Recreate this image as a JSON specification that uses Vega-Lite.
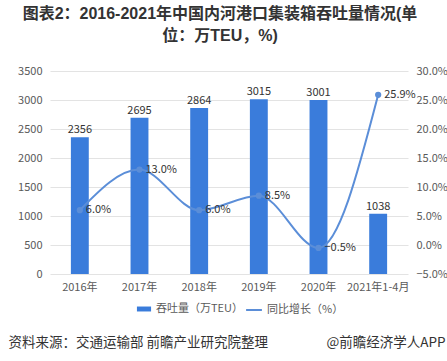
{
  "$schema": "https://vega.github.io/schema/vega-lite/v6.json",
  "width": 358,
  "height": 203,
  "padding": {"left": 8, "right": 2, "top": 6, "bottom": 10},
  "background": "white",
  "config": {
    "view": {"stroke": null},
    "font": "Noto Sans CJK SC"
  },
  "title": {
    "text": ["图表2：2016-2021年中国内河港口集装箱吞吐量情况(单", "位：万TEU，%)"],
    "fontSize": 16,
    "fontWeight": "bold",
    "font": "Liberation Sans, Noto Sans CJK SC",
    "color": "#333333",
    "anchor": "middle",
    "lineHeight": 22,
    "dx": -9,
    "offset": 21
  },
  "data": {
    "values": [
      {"year": "2016年", "teu": 2356, "growth": 0.06},
      {"year": "2017年", "teu": 2695, "growth": 0.13},
      {"year": "2018年", "teu": 2864, "growth": 0.06},
      {"year": "2019年", "teu": 3015, "growth": 0.085},
      {"year": "2020年", "teu": 3001, "growth": -0.005},
      {"year": "2021年1-4月", "teu": 1038, "growth": 0.259}
    ]
  },
  "layer": [
    {
      "encoding": {
        "x": {
          "field": "year", "type": "nominal", "sort": null,
          "scale": {"paddingInner": 0.7, "paddingOuter": 0.35},
          "axis": {
            "labelAngle": 0, "labelFontSize": 11, "labelColor": "#595959",
            "labelPadding": 7, "ticks": false, "domain": false, "grid": false,
            "title": "资料来源：交通运输部 前瞻产业研究院整理",
            "titleAnchor": "start", "titleAlign": "left", "titleX": -42, "titleY": 68,
            "titleBaseline": "middle", "titleFontSize": 13.5, "titleFontWeight": "normal",
            "titleColor": "#333333"
          }
        },
        "y": {
          "field": "teu", "type": "quantitative",
          "scale": {"domain": [0, 3500]},
          "axis": {
            "values": [0, 500, 1000, 1500, 2000, 2500, 3000, 3500], "format": "d",
            "title": null, "ticks": false, "domain": false, "labelPadding": 8,
            "labelFontSize": 11, "labelColor": "#595959",
            "gridColor": "#e3e3e3", "orient": "left"
          }
        }
      },
      "layer": [
        {
          "mark": {"type": "bar", "color": "#3A7CDB"},
          "encoding": {
            "fill": {
              "datum": "吞吐量（万TEU）",
              "scale": {"range": ["#3A7CDB"]},
              "legend": {
                "orient": "none", "legendX": 86, "legendY": 230, "title": null,
                "symbolType": "M-1,-0.35H1V0.35H-1Z", "symbolSize": 200,
                "labelFontSize": 11, "labelColor": "#595959"
              }
            }
          }
        },
        {
          "mark": {"type": "text", "baseline": "bottom", "dy": -2, "fontSize": 11, "color": "#333333"},
          "encoding": {"text": {"field": "teu", "type": "quantitative"}}
        }
      ]
    },
    {
      "encoding": {
        "x": {
          "field": "year", "type": "nominal", "sort": null,
          "axis": {
            "orient": "bottom", "labels": false, "ticks": false, "domain": false, "grid": false,
            "title": "@前瞻经济学人APP",
            "titleAnchor": "end", "titleAlign": "right", "titleX": 395, "titleY": 68,
            "titleBaseline": "middle", "titleFontSize": 13.5, "titleFontWeight": "normal",
            "titleColor": "#333333"
          }
        },
        "y": {
          "field": "growth", "type": "quantitative",
          "scale": {"domain": [-0.05, 0.30]},
          "axis": {
            "orient": "right", "values": [-0.05, 0, 0.05, 0.1, 0.15, 0.2, 0.25, 0.3],
            "format": ".1%", "title": null, "ticks": false, "domain": false, "grid": false,
            "labelPadding": 8, "labelFontSize": 11, "labelColor": "#595959"
          }
        }
      },
      "layer": [
        {
          "mark": {"type": "line", "color": "#5B8ED8", "strokeWidth": 2, "interpolate": "monotone",
                   "point": {"filled": true, "size": 18, "color": "#5B8ED8"}},
          "encoding": {
            "stroke": {
              "datum": "同比增长（%）",
              "scale": {"range": ["#5B8ED8"]},
              "legend": {
                "orient": "none", "legendX": 195, "legendY": 230, "title": null,
                "symbolType": "stroke", "symbolSize": 250, "symbolStrokeWidth": 2,
                "labelFontSize": 11, "labelColor": "#595959"
              }
            }
          }
        },
        {
          "mark": {"type": "text", "align": "left", "baseline": "middle", "dx": 6, "fontSize": 11, "color": "#333333"},
          "encoding": {"text": {"field": "growth", "type": "quantitative", "format": ".1%"}}
        }
      ]
    }
  ],
  "resolve": {"scale": {"y": "independent"}, "axis": {"x": "independent"}}
}
